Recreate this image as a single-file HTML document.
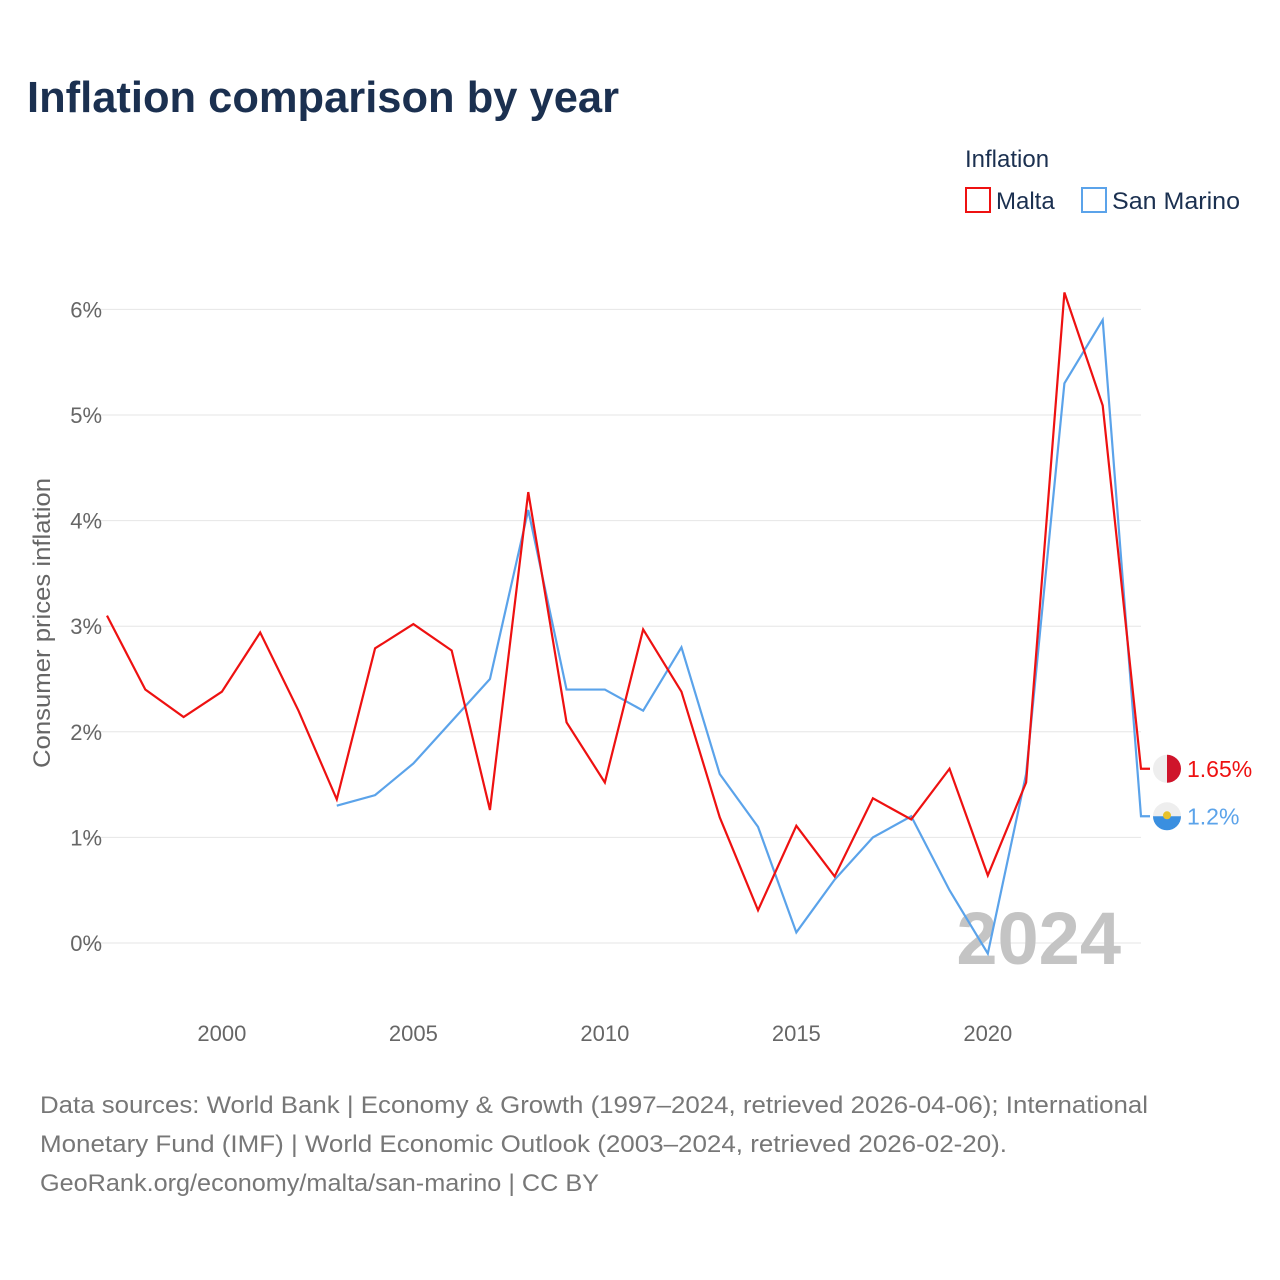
<!DOCTYPE html>
<html><head><meta charset="utf-8">
<style>
body{margin:0;background:#fff;font-family:"Liberation Sans",sans-serif;}
#wrap{position:relative;width:1280px;height:1280px;overflow:hidden;}
</style></head>
<body>
<div id="wrap">
<svg id="chart" width="1280" height="1280"></svg>
</div>
<script>
const years = [1997,1998,1999,2000,2001,2002,2003,2004,2005,2006,2007,2008,2009,2010,2011,2012,2013,2014,2015,2016,2017,2018,2019,2020,2021,2022,2023,2024];
const maltaValues = [3.1,2.4,2.14,2.38,2.94,2.2,1.36,2.79,3.02,2.77,1.26,4.27,2.09,1.52,2.97,2.38,1.19,0.31,1.11,0.63,1.37,1.17,1.65,0.64,1.52,6.16,5.09,1.65];
const smYears = [2003,2004,2005,2006,2007,2008,2009,2010,2011,2012,2013,2014,2015,2016,2017,2018,2019,2020,2021,2022,2023,2024];
const smValues = [1.3,1.4,1.7,2.1,2.5,4.1,2.4,2.4,2.2,2.8,1.6,1.1,0.1,0.6,1.0,1.2,0.5,-0.1,1.6,5.3,5.9,1.2];
const yTicks = [0,1,2,3,4,5,6];
const xTicks = [2000,2005,2010,2015,2020];

const NS="http://www.w3.org/2000/svg";
const svg=document.getElementById('chart');
const X=y=>107+(y-1997)*(1141-107)/27;
const Y=v=>943-v*105.6;
function el(tag,attrs,text){const e=document.createElementNS(NS,tag);for(const k in attrs)e.setAttribute(k,attrs[k]);if(text!==undefined)e.textContent=text;svg.appendChild(e);return e;}
const F='"Liberation Sans",sans-serif';

let t=el('text',{x:27,y:112,'font-size':44,'font-weight':'bold',fill:'#1b3050','font-family':F,textLength:592,lengthAdjust:'spacingAndGlyphs'},'Inflation comparison by year');



yTicks.forEach(v=>{
 const g=el('line',{x1:85,x2:1141,y1:Y(v),y2:Y(v),stroke:'#e6e6e6','stroke-width':1});
 
 
 const l=el('text',{x:102,y:Y(v)+8,'font-size':22,fill:'#666','text-anchor':'end','font-family':F},v+'%');
 
 
});
xTicks.forEach(y=>{
 const l=el('text',{x:X(y),y:1041,'font-size':22,fill:'#666','text-anchor':'middle','font-family':F},String(y));
 
 
});
t=el('text',{x:0,y:0,'font-size':24,fill:'#666','font-family':F,'text-anchor':'middle',transform:'translate(50,623) rotate(-90)',textLength:290,lengthAdjust:'spacingAndGlyphs'},'Consumer prices inflation');



t=el('text',{x:1121,y:964,'font-size':74,'font-weight':'bold',fill:'#c4c4c4','text-anchor':'end','font-family':F},'2024');



function series(xs,vs,color,name){
 let d=xs.map((y,i)=>(i?'L':'M')+X(y)+','+Y(vs[i])).join(' ');
 d+=' L1150,'+Y(vs[vs.length-1]);
 const p=el('path',{d:d,fill:'none',stroke:color,'stroke-width':2.2,'stroke-linejoin':'miter'});
 
 
}
series(smYears,smValues,'#5ba3ea','san-marino');
series(years,maltaValues,'#ee1111','malta');

const mv=maltaValues[maltaValues.length-1], sv=smValues[smValues.length-1];
let c=el('circle',{cx:1167,cy:Y(mv),r:14,fill:'#eeeeee'});


let h=el('path',{d:`M1167,${Y(mv)-14} A14,14 0 0 1 1167,${Y(mv)+14} Z`,fill:'#cf142b'});


t=el('text',{x:1187,y:Y(mv)+8,'font-size':23,fill:'#ee1111','font-family':F},mv+'%');


c=el('circle',{cx:1167,cy:Y(sv),r:14,fill:'#eeeeee'});


h=el('path',{d:`M1153,${Y(sv)} A14,14 0 0 0 1181,${Y(sv)} Z`,fill:'#3a8fe0'});


c=el('circle',{cx:1167,cy:Y(sv)-1,r:4,fill:'#e8c22a'});


t=el('text',{x:1187,y:Y(sv)+8,'font-size':23,fill:'#5ba3ea','font-family':F},sv+'%');



t=el('text',{x:965,y:167,'font-size':24,fill:'#1b3050','font-family':F},'Inflation');


let r=el('rect',{x:966,y:188,width:24,height:24,fill:'none',stroke:'#ee1111','stroke-width':2});


t=el('text',{x:996,y:209,'font-size':24,fill:'#1b3050','font-family':F},'Malta');


r=el('rect',{x:1082,y:188,width:24,height:24,fill:'none',stroke:'#5ba3ea','stroke-width':2});


t=el('text',{x:1112,y:209,'font-size':24,fill:'#1b3050','font-family':F,textLength:128,lengthAdjust:'spacingAndGlyphs'},'San Marino');



const foot=['Data sources: World Bank | Economy & Growth (1997–2024, retrieved 2026-04-06); International','Monetary Fund (IMF) | World Economic Outlook (2003–2024, retrieved 2026-02-20).','GeoRank.org/economy/malta/san-marino | CC BY'];
const footW=[1108,967,559];
foot.forEach((s,i)=>{
 const f=el('text',{x:40,y:1113+i*39,'font-size':24,fill:'#777','font-family':F,textLength:footW[i],lengthAdjust:'spacingAndGlyphs'},s);
 
 
});
</script>
</body></html>
